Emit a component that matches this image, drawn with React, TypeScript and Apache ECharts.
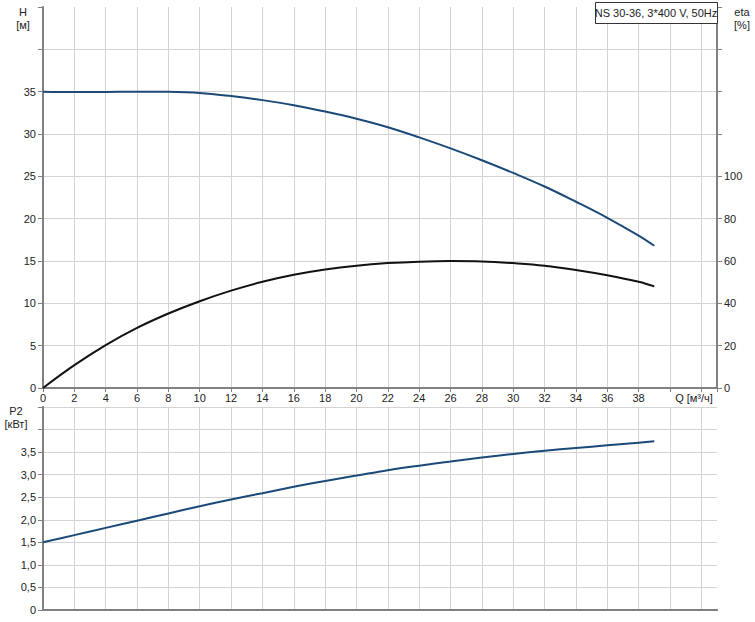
import React, { useEffect, useRef } from "react";
import * as echarts from "echarts";

const Q = [0, 2, 4, 6, 8, 10, 12, 14, 16, 18, 20, 22, 24, 26, 28, 30, 32, 34, 36, 38, 39];
const H = [35.0, 34.95, 34.96, 35.0, 34.98, 34.85, 34.48, 34.0, 33.4, 32.65, 31.8, 30.8, 29.6, 28.3, 26.9, 25.4, 23.8, 22.0, 20.1, 18.0, 16.8];
const ETA = [0, 10.8, 20.3, 28.4, 35.2, 41.0, 46.0, 50.2, 53.5, 56.0, 57.8, 59.0, 59.7, 60.0, 59.8, 59.0, 57.8, 55.8, 53.3, 50.2, 48.0];
const P2 = [1.5, 1.66, 1.82, 1.98, 2.14, 2.3, 2.45, 2.59, 2.73, 2.86, 2.98, 3.1, 3.2, 3.29, 3.38, 3.46, 3.53, 3.59, 3.65, 3.71, 3.74];

const TITLE = "NS 30-36, 3*400 V, 50Hz";
const Q_LABEL = "Q [м³/ч]";

const FONT = "Liberation Sans";
const AXIS_COLOR = "#808080";
const GRID_COLOR = "#d3d3d3";
const TEXT_COLOR = "#222";
const BLUE = "#1b4a78";

export default function App() {
  const ref = useRef<HTMLDivElement>(null);
  useEffect(() => {
    const chart = echarts.init(ref.current!, null, { renderer: "svg" });
    const pair = (ys: number[]) => Q.map((q, i) => [q, ys[i]]);
    const axisLine = { show: true, lineStyle: { color: AXIS_COLOR, width: 2 } };
    const axisLabel = { color: TEXT_COLOR, fontFamily: FONT, fontSize: 11 };
    const tick = { show: true, inside: false, length: 5, lineStyle: { color: AXIS_COLOR } };
    const splitLine = { show: true, showMaxLine: false, lineStyle: { color: GRID_COLOR, width: 1 } };
    const option: any = {
      animation: false,
      backgroundColor: "#fff",
      grid: [
        { left: 43, top: 7, width: 674, height: 381 },
        { left: 43, top: 407, width: 674, height: 203 },
      ],
      xAxis: [
        {
          type: "value", gridIndex: 0, min: 0, max: 43, interval: 2,
          axisLine, axisTick: { ...tick, length: 4 },
          axisLabel: { ...axisLabel, margin: 4, formatter: (v: number) => (v <= 38 ? String(v) : "") },
          splitLine,
        },
        {
          type: "value", gridIndex: 1, min: 0, max: 43, interval: 2,
          axisLine, axisTick: { show: false }, axisLabel: { show: false },
          splitLine,
        },
        {
          type: "value", gridIndex: 1, position: "top", min: 0, max: 43, interval: 2,
          axisLine, axisTick: { show: false }, axisLabel: { show: false }, splitLine: { show: false },
        },
      ],
      yAxis: [
        {
          type: "value", gridIndex: 0, min: 0, max: 45, interval: 5,
          axisLine, axisTick: tick,
          axisLabel: { ...axisLabel, margin: 7, formatter: (v: number) => (v <= 35 ? String(v) : "") },
          splitLine,
        },
        {
          type: "value", gridIndex: 0, position: "right", min: 0, max: 180, interval: 20,
          axisLine, axisTick: tick,
          axisLabel: { ...axisLabel, margin: 7, formatter: (v: number) => (v <= 100 ? String(v) : "") },
          splitLine: { show: false },
        },
        {
          type: "value", gridIndex: 1, min: 0, max: 4.5, interval: 0.5,
          axisLine, axisTick: tick,
          axisLabel: {
            ...axisLabel, margin: 7,
            formatter: (v: number) => (v === 0 ? "0" : v <= 3.5 ? v.toFixed(1).replace(".", ",") : ""),
          },
          splitLine: { show: true, lineStyle: { color: GRID_COLOR, width: 1 } },
        },
        {
          type: "value", gridIndex: 1, position: "right", min: 0, max: 4.5, interval: 0.5,
          axisLine, axisTick: { show: false }, axisLabel: { show: false }, splitLine: { show: false },
        },
      ],
      series: [
        {
          type: "line", name: "H", xAxisIndex: 0, yAxisIndex: 0, data: pair(H),
          smooth: 0.4, symbol: "none", lineStyle: { color: BLUE, width: 2 },
        },
        {
          type: "line", name: "eta", xAxisIndex: 0, yAxisIndex: 1, data: pair(ETA),
          smooth: 0.4, symbol: "none", lineStyle: { color: "#111", width: 2 },
        },
        {
          type: "line", name: "P2", xAxisIndex: 1, yAxisIndex: 2, data: pair(P2),
          smooth: 0.4, symbol: "none", lineStyle: { color: BLUE, width: 2 },
        },
      ],
      graphic: [
        {
          type: "rect", shape: { x: 595.5, y: 2.5, width: 122, height: 21 },
          style: { fill: "#fff", stroke: "#333", lineWidth: 1 }, z: 100,
        },
        {
          type: "text", x: 656, y: 13, z: 101,
          style: { text: TITLE, fill: TEXT_COLOR, font: `11px "${FONT}"`, align: "center", verticalAlign: "middle" },
        },
        {
          type: "text", x: 23, y: 12,
          style: { text: "H", fill: TEXT_COLOR, font: `11px "${FONT}"`, align: "center", verticalAlign: "middle" },
        },
        {
          type: "text", x: 23, y: 25,
          style: { text: "[м]", fill: TEXT_COLOR, font: `11px "${FONT}"`, align: "center", verticalAlign: "middle" },
        },
        {
          type: "text", x: 742, y: 12,
          style: { text: "eta", fill: TEXT_COLOR, font: `11px "${FONT}"`, align: "center", verticalAlign: "middle" },
        },
        {
          type: "text", x: 742, y: 25,
          style: { text: "[%]", fill: TEXT_COLOR, font: `11px "${FONT}"`, align: "center", verticalAlign: "middle" },
        },
        {
          type: "text", x: 694, y: 398,
          style: { text: Q_LABEL, fill: TEXT_COLOR, font: `11px "${FONT}"`, align: "center", verticalAlign: "middle" },
        },
        {
          type: "text", x: 16, y: 411,
          style: { text: "P2", fill: TEXT_COLOR, font: `11px "${FONT}"`, align: "center", verticalAlign: "middle" },
        },
        {
          type: "text", x: 16, y: 424,
          style: { text: "[кВт]", fill: TEXT_COLOR, font: `11px "${FONT}"`, align: "center", verticalAlign: "middle" },
        },
      ],
    };
    chart.setOption(option);
    return () => chart.dispose();
  }, []);
  return <div ref={ref} style={{ width: 755, height: 622, position: "absolute", left: 0, top: 0 }} />;
}
